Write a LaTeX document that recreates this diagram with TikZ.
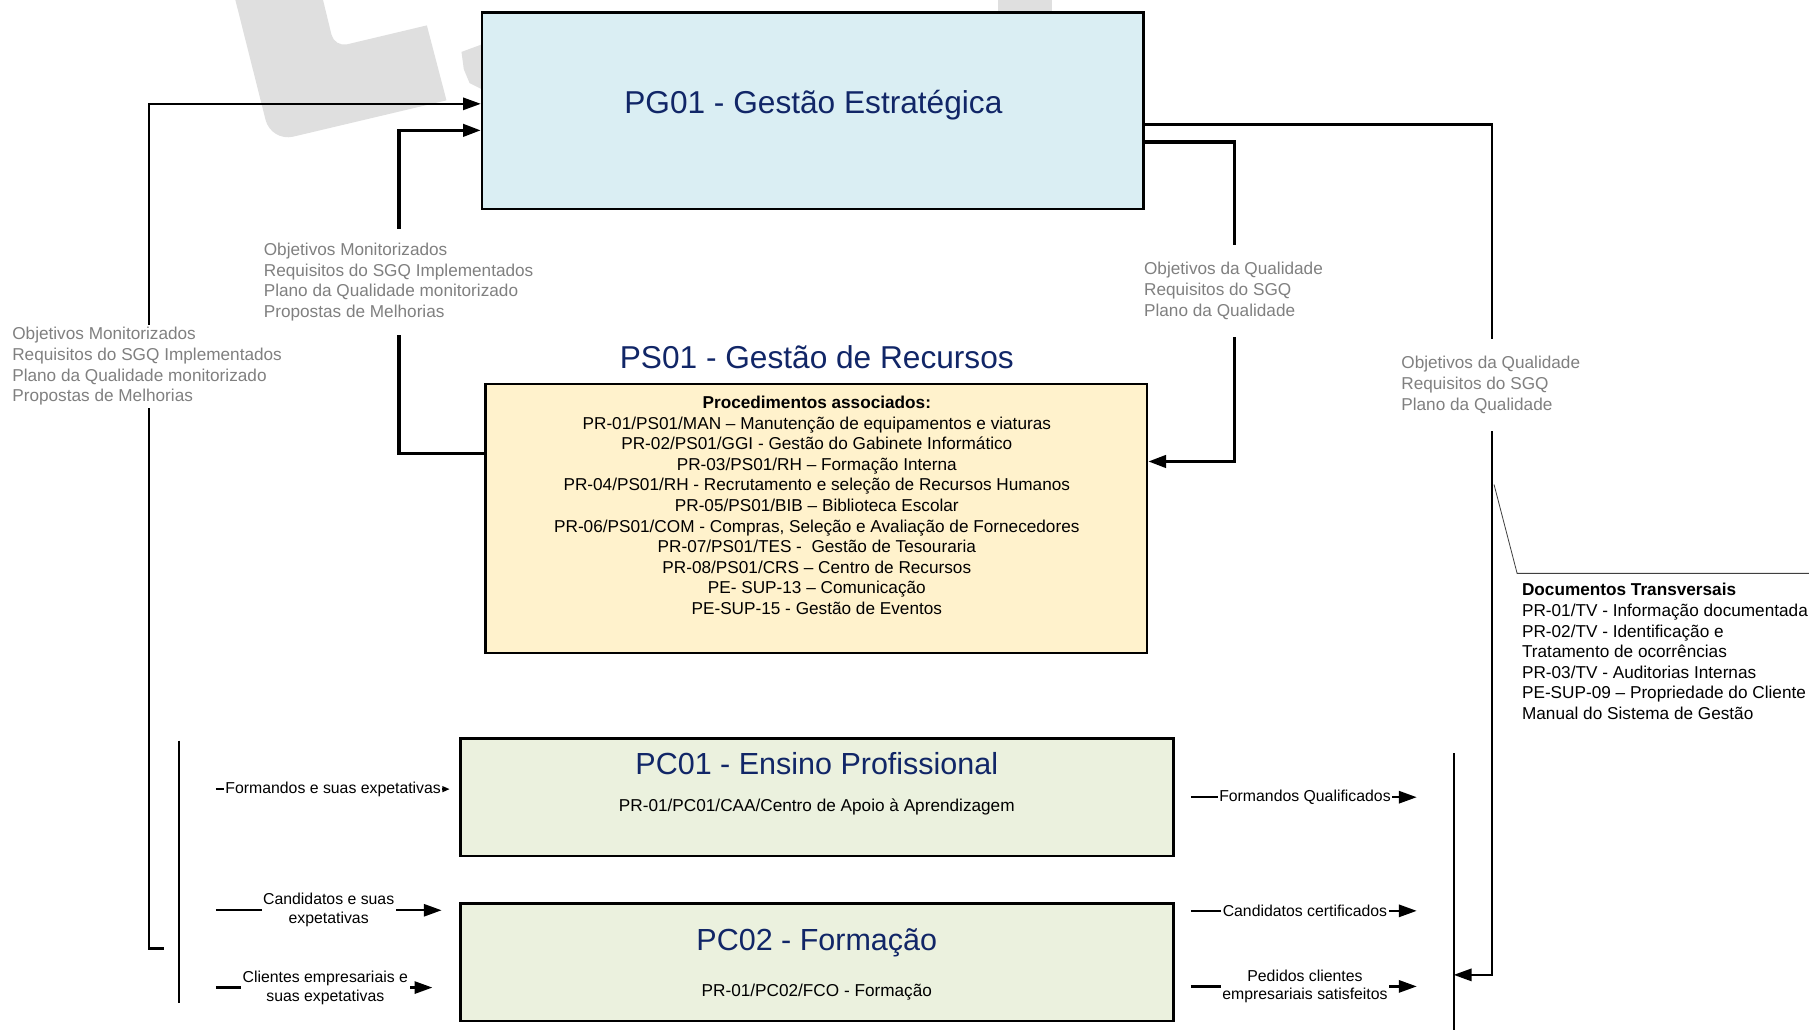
\documentclass[tikz,border=0pt]{standalone}
\usepackage{fontspec}
\setmainfont{Liberation Sans}
\usetikzlibrary{arrows.meta}

\definecolor{pgfill}{RGB}{218,238,243}
\definecolor{psfill}{RGB}{255,242,204}
\definecolor{pcfill}{RGB}{235,241,222}
\definecolor{titleblue}{RGB}{17,38,103}
\definecolor{lblgray}{RGB}{128,128,128}
\definecolor{wmgray}{RGB}{223,223,223}

\tikzset{
	procbox/.style={shape=rectangle, draw, line width=1.6pt},
	ptitle/.style={text=titleblue, font=\fontsize{19.5}{23}\selectfont, anchor=base, inner sep=0pt},
	pctitle/.style={ptitle, font=\fontsize{18.8}{22}\selectfont},
	body/.style={font=\fontsize{10.6}{12.66}\selectfont, align=center, inner sep=0pt},
	graylbl/.style={text=lblgray, fill=white, font=\fontsize{10.6}{12.8}\selectfont, align=left, anchor=west, inner xsep=1pt, inner ysep=0pt},
	iolbl/.style={fill=white, font=\fontsize{9.75}{11.7}\selectfont, align=center, inner xsep=1pt, inner ysep=1pt},
	flow/.style={line width=2.2pt, -{Triangle[length=11pt,width=7.5pt]}},
	flowthin/.style={line width=1.5pt, -{Triangle[length=11pt,width=7.5pt]}},
	feed/.style={line width=1.5pt, -{Triangle[length=11pt,width=7.5pt]}},
	bar/.style={line width=1.4pt}
}

\begin{document}
\begin{tikzpicture}[x=0.025cm, y=-0.025cm]	% Paths, nodes and wires:
	\useasboundingbox (0,0) rectangle (1568,893);
	% faded logo in the background
	\fill[wmgray] (204,0) [rounded corners=14pt] -- (235,123) [sharp corners] -- (387,87) -- (370,22) [rounded corners=8pt] -- (290,41) [sharp corners] -- (280,0) -- cycle;
	\fill[wmgray] (400,45) -- (419,38) -- (419,78) -- (407,72) -- (402,60) -- cycle;
	\fill[wmgray] (865,0) rectangle (912,10);
	% process boxes
	\node[procbox, fill=pgfill, minimum width=14.325cm, minimum height=4.25cm] (PG01) at (704.5,96) {};
	\node[ptitle] (PG01T) at (705,98) {PG01 - Gestão Estratégica};
	\node[ptitle] (PS01T) at (708,319) {PS01 - Gestão de Recursos};
	\node[procbox, fill=psfill, minimum width=14.325cm, minimum height=5.825cm] (PS01) at (707.5,449.5) {};
	\node[body] (PS01P) at (708,438) {\textbf{Procedimentos associados:}\\
		PR-01/PS01/MAN – Manutenção de equipamentos e viaturas\\
		PR-02/PS01/GGI - Gestão do Gabinete Informático\\
		PR-03/PS01/RH – Formação Interna\\
		PR-04/PS01/RH - Recrutamento e seleção de Recursos Humanos\\
		PR-05/PS01/BIB – Biblioteca Escolar\\
		PR-06/PS01/COM - Compras, Seleção e Avaliação de Fornecedores\\
		PR-07/PS01/TES -\ \ Gestão de Tesouraria\\
		PR-08/PS01/CRS – Centro de Recursos\\
		PE- SUP-13 – Comunicação\\
		PE-SUP-15 - Gestão de Eventos};
	\node[procbox, fill=pcfill, minimum width=15.45cm, minimum height=2.55cm] (PC01) at (708,691) {};
	\node[pctitle] (PC01T) at (708,671.5) {PC01 - Ensino Profissional};
	\node[body, anchor=base] (PC01P) at (708,703.4) {PR-01/PC01/CAA/Centro de Apoio à Aprendizagem};
	\node[procbox, fill=pcfill, minimum width=15.45cm, minimum height=2.55cm] (PC02) at (708,834) {};
	\node[pctitle] (PC02T) at (708,823.5) {PC02 - Formação};
	\node[body, anchor=base] (PC02P) at (708,863.4) {PR-01/PC02/FCO - Formação};
	% brackets for clients and outputs
	\coordinate (LT) at (155,642);
	\coordinate (LB) at (155,869);
	\coordinate (RT) at (1260,653);
	\coordinate (RB) at (1260,893);
	\coordinate (LBR) at (142,822);
	\coordinate (CO) at (1295,420);
	\draw[bar] (LT) -- (LB);
	\draw[bar] (RT) -- (RB);
	% loops between the processes
	\draw[flowthin] (LBR) -- (129,822) |- (PG01.west |- 0,90);
	\draw[flow] (PS01.west |- 0,393) -| (346,113) -- (PG01.west |- 0,113);
	\draw[flow] (PG01.east |- 0,123) -| (1070,400) -- (PS01.east |- 0,400);
	\draw[flowthin] (PG01.east |- 0,108) -| (1293,845) -- (RT |- 0,845);
	\node[graylbl, minimum height=1.8cm] (GL1) at (9,317.5) {Objetivos Monitorizados\\Requisitos do SGQ Implementados\\Plano da Qualidade monitorizado\\Propostas de Melhorias};
	\node[graylbl, minimum height=2.3cm] (GL2) at (227,244.5) {Objetivos Monitorizados\\Requisitos do SGQ Implementados\\Plano da Qualidade monitorizado\\Propostas de Melhorias};
	\node[graylbl, minimum height=2cm] (GL3) at (990,252) {Objetivos da Qualidade\\Requisitos do SGQ\\Plano da Qualidade};
	\node[graylbl, minimum height=2cm] (GL4) at (1213,333.5) {Objetivos da Qualidade\\Requisitos do SGQ\\Plano da Qualidade};
	% inputs
	\draw[feed, shorten <=0.8cm, shorten >=0.2cm, -{Triangle[length=4.5pt,width=3.5pt]}] (LT |- 0,684) -- (PC01.west |- 0,684) node[iolbl, pos=0.551] (IN1) {Formandos e suas expetativas};
	\draw[feed, shorten <=0.8cm, shorten >=0.375cm] (LT |- 0,789) -- (PC02.west |- 0,789) node[iolbl, pos=0.535] (IN2) {Candidatos e suas\\expetativas};
	\draw[feed, shorten <=0.8cm, shorten >=0.575cm] (LT |- 0,856) -- (PC02.west |- 0,856) node[iolbl, pos=0.523] (IN3) {Clientes empresariais e\\suas expetativas};
	% outputs
	\draw[feed, shorten <=0.35cm, shorten >=0.8cm] (PC01.east |- 0,691) -- (RT |- 0,691) node[iolbl, pos=0.467] (OUT1) {Formandos Qualificados};
	\draw[feed, shorten <=0.35cm, shorten >=0.8cm] (PC02.east |- 0,789.5) -- (RT |- 0,789.5) node[iolbl, pos=0.467] (OUT2) {Candidatos certificados};
	\draw[feed, shorten <=0.35cm, shorten >=0.8cm] (PC02.east |- 0,855) -- (RT |- 0,855) node[iolbl, pos=0.467] (OUT3) {Pedidos clientes\\empresariais satisfeitos};
	% transversal documents
	\draw[line width=0.5pt, black!75] (CO) -- (1315,497) -- (1568,497);
	\node[body, align=left, anchor=north west] (DOCS) at (1319,505.5) {\textbf{Documentos Transversais}\\PR-01/TV - Informação documentada\\PR-02/TV - Identificação e\\Tratamento de ocorrências\\PR-03/TV - Auditorias Internas\\PE-SUP-09 – Propriedade do Cliente\\Manual do Sistema de Gestão};
\end{tikzpicture}
\end{document}
